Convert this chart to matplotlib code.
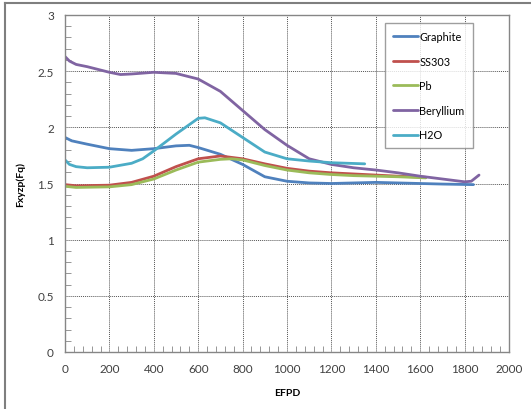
import matplotlib
matplotlib.use("Agg")
import matplotlib.pyplot as plt
from matplotlib.lines import Line2D
from matplotlib.ticker import MultipleLocator

# Ocitane vrednosti sa grafika (EFPD, Fxyzp)
graphite_x = [0, 30, 100, 200, 300, 400, 500, 560, 600, 700, 800, 900, 1000,
              1100, 1200, 1300, 1400, 1500, 1600, 1700, 1840]
graphite_y = [1.91, 1.88, 1.85, 1.81, 1.795, 1.81, 1.835, 1.84, 1.82, 1.76, 1.67,
              1.56, 1.52, 1.505, 1.50, 1.505, 1.51, 1.505, 1.50, 1.495, 1.49]

ss303_x = [0, 50, 200, 300, 400, 500, 600, 700, 800, 900, 1000, 1100, 1200,
           1300, 1400, 1500, 1625]
ss303_y = [1.49, 1.48, 1.485, 1.51, 1.565, 1.65, 1.72, 1.745, 1.72, 1.675, 1.635,
           1.61, 1.595, 1.585, 1.575, 1.565, 1.555]

pb_x = [0, 50, 200, 300, 400, 500, 600, 700, 750, 800, 900, 1000, 1100, 1200,
        1300, 1400, 1500, 1625]
pb_y = [1.475, 1.465, 1.47, 1.49, 1.54, 1.62, 1.69, 1.715, 1.72, 1.71, 1.66,
        1.62, 1.595, 1.58, 1.57, 1.565, 1.56, 1.55]

be_x = [0, 20, 50, 100, 200, 250, 300, 400, 500, 600, 700, 800, 900, 1000,
        1100, 1200, 1300, 1400, 1500, 1600, 1700, 1800, 1830, 1865]
be_y = [2.63, 2.59, 2.56, 2.54, 2.49, 2.47, 2.475, 2.49, 2.48, 2.43, 2.32, 2.15,
        1.98, 1.84, 1.72, 1.67, 1.64, 1.62, 1.595, 1.565, 1.54, 1.515, 1.52, 1.575]

h2o_x = [0, 20, 50, 100, 200, 300, 350, 400, 500, 600, 630, 700, 800, 900,
         1000, 1100, 1200, 1350]
h2o_y = [1.71, 1.67, 1.65, 1.64, 1.645, 1.68, 1.72, 1.79, 1.94, 2.08, 2.085,
         2.04, 1.91, 1.78, 1.72, 1.70, 1.685, 1.675]

series = [
    ("Graphite", graphite_x, graphite_y, "#4F81BD"),
    ("SS303", ss303_x, ss303_y, "#C0504D"),
    ("Pb", pb_x, pb_y, "#9BBB59"),
    ("Beryllium", be_x, be_y, "#8064A2"),
    ("H2O", h2o_x, h2o_y, "#4BACC6"),
]

plt.rcParams["font.family"] = ["Lato", "DejaVu Sans"]

fig = plt.figure(figsize=(5.31, 4.10), dpi=100)
ax = fig.add_axes([65 / 531, 1 - 353 / 410, 444 / 531, 337 / 410])

for name, x, y, c in series:
    ax.plot(x, y, color=c, lw=2.0, label=name, solid_capstyle="round",
            solid_joinstyle="round")

ax.set_xlim(0, 2000)
ax.set_ylim(0, 3)
ax.xaxis.set_major_locator(MultipleLocator(200))
ax.xaxis.set_minor_locator(MultipleLocator(40))
ax.yaxis.set_minor_locator(MultipleLocator(0.1))
ax.set_yticks([0, 0.5, 1, 1.5, 2, 2.5, 3])
ax.set_yticklabels(["0", "0.5", "1", "1.5", "2", "2.5", "3"])

ax.grid(True, which="major", color="#555555", ls=(0, (1, 1)), lw=0.7)
ax.tick_params(which="both", direction="in", color="#868686", labelsize=8.5,
               labelcolor="#404040")
ax.tick_params(which="major", length=0, pad=8)
ax.tick_params(which="minor", length=4)
for s in ax.spines.values():
    s.set_color("#868686")
    s.set_linewidth(1.0)

ax.set_xlabel("EFPD", fontsize=7.5, fontweight="bold", labelpad=10)
ax.set_ylabel("Fxyzp(Fq)", fontsize=7.5, fontweight="bold", labelpad=9)

leg = ax.legend(loc="upper left", bbox_to_anchor=(385 / 531, 1 - 24 / 410),
                bbox_transform=fig.transFigure, fontsize=7.8, frameon=True,
                fancybox=False, edgecolor="#868686", labelspacing=1.25,
                handlelength=2.3, handletextpad=0.1, borderpad=0.75,
                borderaxespad=0)
leg.get_frame().set_linewidth(1.0)
leg.get_frame().set_width(113)

# okvir slike (vidljiva samo leva i gornja ivica)
fig.add_artist(Line2D([5 / 531, 5 / 531], [0, 1 - 4 / 410], transform=fig.transFigure,
                      color="#7f7f7f", lw=1.5))
fig.add_artist(Line2D([5 / 531, 1], [1 - 4 / 410, 1 - 4 / 410], transform=fig.transFigure,
                      color="#7f7f7f", lw=1.5))

fig.savefig("out.png", dpi=100)
